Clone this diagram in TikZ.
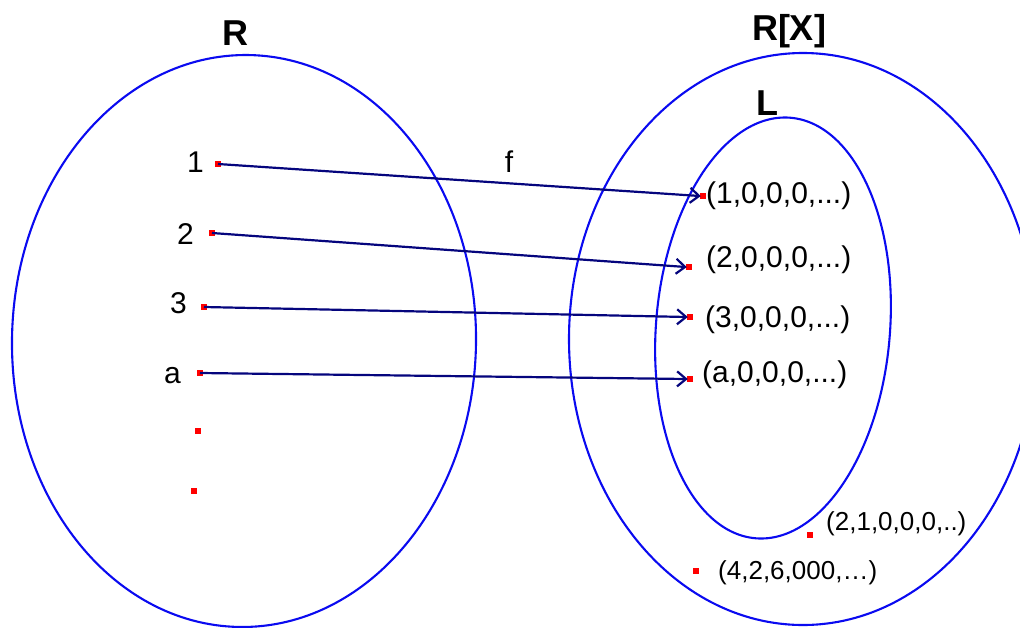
\documentclass[tikz,border=0pt]{standalone}
\usepackage{fontspec}
\usetikzlibrary{arrows.meta}
\newfontfamily\labfont{Liberation Sans}
\newfontfamily\titfont{Liberation Sans}
\definecolor{setblue}{RGB}{10,10,240}
\definecolor{arrnavy}{RGB}{5,5,125}
\tikzset{
  setline/.style={draw=setblue, line width=2.1pt},
  dot/.style={rectangle, fill=red, minimum width=6pt, minimum height=5.5pt, inner sep=0pt},
  biglab/.style={inner sep=0pt, font=\labfont\fontsize{30}{36}\selectfont},
  smalllab/.style={inner sep=0pt, font=\labfont\fontsize{26}{30}\selectfont},
  titlab/.style={inner sep=0pt, font=\titfont\bfseries\fontsize{36}{40}\selectfont},
  maparrow/.style={draw=arrnavy, line width=2.2pt, -{Straight Barb[length=9pt,width=15pt,line width=2.2pt]}, shorten >=-1pt}
}
\begin{document}
\begin{tikzpicture}[x=1pt,y=-1pt]
\useasboundingbox (0,0) rectangle (1020,627);
\clip (0,0) rectangle (1020,627);
% sets
\draw[setline, rotate around={-1:(244,341)}] (244,341) ellipse [x radius=232pt, y radius=286pt];
\draw[setline] (803,339) ellipse [x radius=234pt, y radius=286pt];
\draw[setline, rotate around={-4.7:(773,328)}] (773,328) ellipse [x radius=117pt, y radius=211pt];
% titles
\node[titlab, anchor=base] (tR) at (235,45) {R};
\node[titlab, anchor=base] (tRX) at (789,40) {R[X]};
\node[titlab, anchor=base] (tL) at (767,115) {L};
% source dots
\node[dot] (s1) at (218,164) {};
\node[dot] (s2) at (212,233) {};
\node[dot] (s3) at (204,307) {};
\node[dot] (s4) at (200,373) {};
\node[dot] (s5) at (198,431) {};
\node[dot] (s6) at (194,491) {};
% source labels
\node[biglab, anchor=base east] (n1) at (204,172) {1};
\node[biglab, anchor=base east] (n2) at (194,244) {2};
\node[biglab, anchor=base east] (n3) at (187,313) {3};
\node[biglab, anchor=base east] (n4) at (181,383) {a};
% target dots
\node[dot] (t1) at (703,196) {};
\node[dot] (t2) at (689,267) {};
\node[dot] (t3) at (690,317) {};
\node[dot] (t4) at (690,379) {};
\node[dot] (t5) at (810,535) {};
\node[dot] (t6) at (696,571) {};
% target labels
\node[biglab, anchor=base west] (m1) at (706,203) {(1,0,0,0,...)};
\node[biglab, anchor=base west] (m2) at (706,267) {(2,0,0,0,...)};
\node[biglab, anchor=base west] (m3) at (705,327) {(3,0,0,0,...)};
\node[biglab, anchor=base west] (m4) at (702,382) {(a,0,0,0,...)};
\node[smalllab, anchor=base west] (m5) at (826,530) {(2,1,0,0,0,..)};
\node[smalllab, anchor=base west] (m6) at (718,579) {(4,2,6,000,…)};
% map label
\node[biglab, anchor=base] (f) at (509,172) {f};
% arrows
\draw[maparrow] (s1.center) -- (t1.west);
\draw[maparrow] (s2.center) -- (t2.west);
\draw[maparrow] (s3.center) -- (t3.west);
\draw[maparrow] (s4.center) -- (t4.west);
\end{tikzpicture}
\end{document}
